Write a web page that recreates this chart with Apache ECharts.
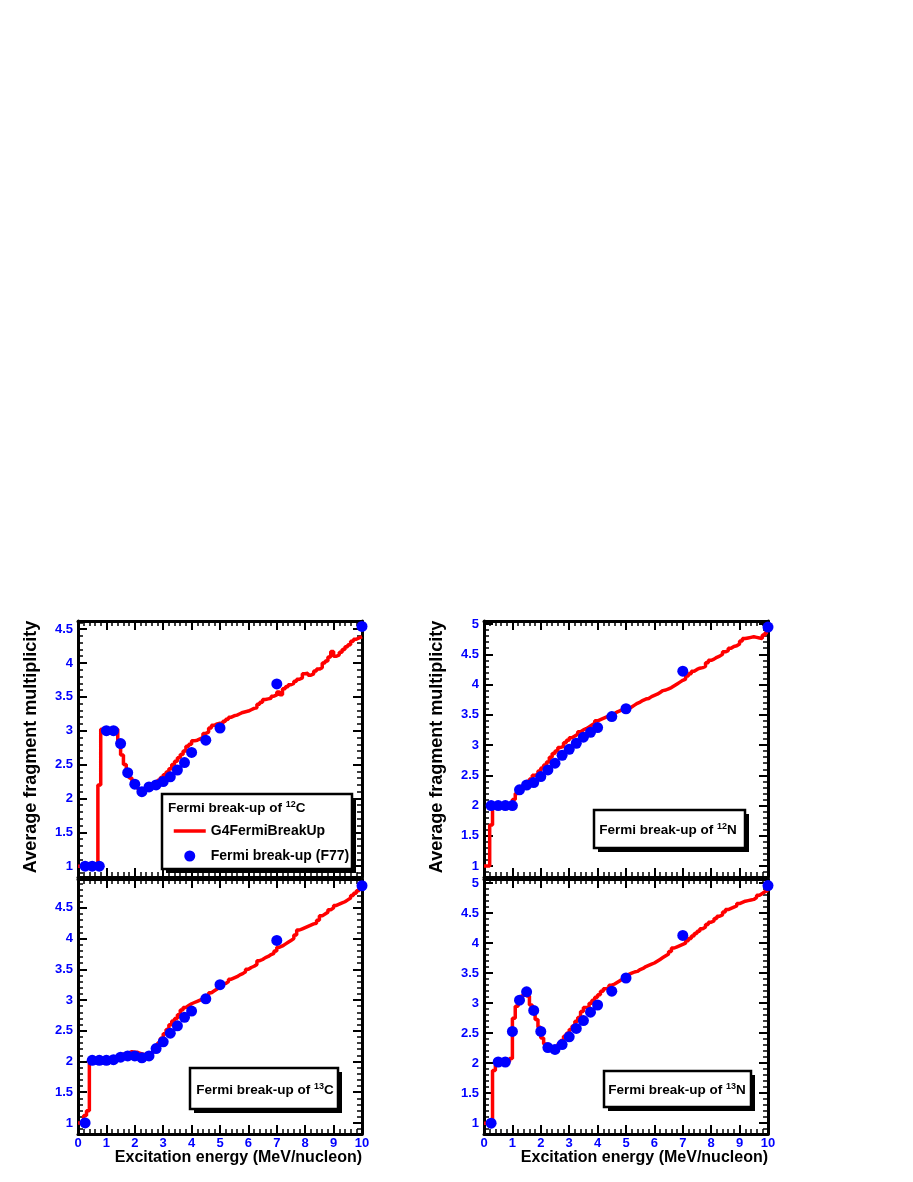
<!DOCTYPE html>
<html><head><meta charset="utf-8">
<script src="https://cdn.jsdelivr.net/npm/echarts@6/dist/echarts.min.js"></script>
<style>html,body{margin:0;padding:0;background:#fff}#c{width:913px;height:1182px}</style>
</head><body><div id="c"></div>
<script>
// ---------- DATA ----------
const HIST_X_MIN = 0, HIST_BIN_WIDTH = 0.1, X_MAX = 10;
const F77_E = [0.25,0.5,0.75,1.0,1.25,1.5,1.75,2.0,2.25,2.5,2.75,3.0,3.25,3.5,3.75,4.0,4.5,5.0,7.0,10.0];

const C12_HIST = [1.0,1.0,1.0,1.0,1.0,1.0,1.0,2.2,3.02,3.03,
  3.03,3.03,3.03,3.02,2.82,2.64,2.5,2.4,2.3,2.24,
  2.18,2.14,2.1,2.12,2.15,2.17,2.2,2.23,2.27,2.31,
  2.35,2.39,2.44,2.5,2.55,2.6,2.65,2.7,2.77,2.8,
  2.85,2.86,2.88,2.9,2.96,2.98,3.04,3.08,3.1,3.11,
  3.1,3.14,3.17,3.2,3.22,3.23,3.25,3.27,3.28,3.29,
  3.31,3.33,3.34,3.39,3.42,3.46,3.47,3.48,3.51,3.53,
  3.57,3.53,3.62,3.65,3.68,3.7,3.73,3.76,3.78,3.84,
  3.85,3.82,3.84,3.88,3.91,3.93,4.0,4.03,4.09,4.17,
  4.1,4.12,4.16,4.2,4.24,4.27,4.32,4.35,4.37,4.39];
const C12_F77 = [1.0,1.0,1.0,3.0,3.0,2.81,2.38,2.21,2.10,2.17,2.20,2.25,2.32,2.42,2.53,2.68,2.86,3.04,3.69,4.54];

const N12_HIST = [1.0,1.0,1.68,2.0,2.0,2.0,2.0,2.0,2.0,2.0,
  2.1,2.2,2.28,2.32,2.36,2.4,2.44,2.5,2.52,2.57,
  2.62,2.67,2.72,2.8,2.86,2.9,2.96,2.98,3.04,3.08,
  3.12,3.15,3.18,3.22,3.25,3.27,3.3,3.33,3.36,3.4,
  3.42,3.44,3.46,3.48,3.5,3.52,3.55,3.57,3.58,3.6,
  3.6,3.63,3.66,3.69,3.71,3.74,3.76,3.77,3.8,3.82,
  3.84,3.87,3.9,3.91,3.93,3.95,3.98,4.01,4.04,4.07,
  4.09,4.14,4.18,4.22,4.25,4.27,4.28,4.3,4.36,4.4,
  4.42,4.45,4.47,4.5,4.54,4.56,4.6,4.63,4.64,4.67,
  4.72,4.76,4.77,4.78,4.79,4.78,4.77,4.76,4.82,4.86];
const N12_F77 = [2.0,2.0,2.0,2.0,2.26,2.34,2.38,2.48,2.59,2.70,2.83,2.93,3.03,3.13,3.21,3.29,3.47,3.60,4.22,4.95];

const C13_HIST = [1.0,1.0,1.12,1.2,2.0,2.01,2.01,2.02,2.02,2.02,
  2.03,2.04,2.06,2.08,2.1,2.12,2.13,2.14,2.16,2.15,
  2.15,2.13,2.12,2.1,2.1,2.12,2.16,2.22,2.3,2.38,
  2.45,2.52,2.6,2.66,2.7,2.76,2.84,2.88,2.91,2.94,
  2.96,2.98,3.0,3.02,3.06,3.08,3.12,3.15,3.18,3.2,
  3.23,3.27,3.3,3.34,3.36,3.38,3.41,3.43,3.46,3.5,
  3.53,3.55,3.58,3.64,3.66,3.69,3.71,3.74,3.76,3.8,
  3.86,3.88,3.91,3.94,3.97,4.0,4.06,4.14,4.16,4.18,
  4.2,4.22,4.24,4.25,4.3,4.37,4.4,4.43,4.47,4.5,
  4.54,4.56,4.58,4.6,4.63,4.66,4.7,4.74,4.78,4.82];
const C13_F77 = [1.0,2.02,2.02,2.02,2.03,2.07,2.09,2.09,2.06,2.09,2.21,2.32,2.46,2.58,2.72,2.82,3.02,3.25,3.97,4.86];

const N13_HIST = [1.0,1.0,1.0,1.88,1.97,2.0,2.01,2.02,2.03,2.08,
  2.75,2.95,3.05,3.12,3.17,3.12,2.97,2.85,2.73,2.6,
  2.42,2.32,2.27,2.25,2.24,2.26,2.32,2.38,2.45,2.5,
  2.56,2.62,2.7,2.76,2.86,2.93,2.94,3.0,3.05,3.1,
  3.14,3.2,3.24,3.26,3.3,3.32,3.35,3.38,3.4,3.45,
  3.48,3.5,3.52,3.53,3.56,3.58,3.61,3.63,3.65,3.67,
  3.7,3.73,3.76,3.79,3.82,3.86,3.92,3.94,3.96,3.98,
  4.0,4.04,4.08,4.12,4.16,4.2,4.24,4.27,4.31,4.35,
  4.37,4.41,4.45,4.47,4.52,4.56,4.58,4.6,4.62,4.66,
  4.68,4.7,4.71,4.72,4.73,4.76,4.8,4.83,4.86,4.88];
const N13_F77 = [1.0,2.02,2.02,2.53,3.05,3.19,2.88,2.53,2.26,2.23,2.31,2.44,2.58,2.71,2.85,2.97,3.20,3.42,4.13,4.96];

const X_TICKS = [0,1,2,3,4,5,6,7,8,9,10];
const Y_TICKS_C12 = [1,1.5,2,2.5,3,3.5,4,4.5];
const Y_TICKS_N12 = [1,1.5,2,2.5,3,3.5,4,4.5,5];
const Y_TICKS_C13 = [1,1.5,2,2.5,3,3.5,4,4.5];
const Y_TICKS_N13 = [1,1.5,2,2.5,3,3.5,4,4.5,5];
const Y_RANGE_C12 = [0.84, 4.62];
const Y_RANGE_N12 = [0.82, 5.05];
const Y_RANGE_C13 = [0.82, 4.97];
const Y_RANGE_N13 = [0.82, 5.07];

const LINE_NAME = 'G4FermiBreakUp';
const PT_NAME = 'Fermi break-up (F77)';
const X_TITLE = 'Excitation energy (MeV/nucleon)';
const Y_TITLE = 'Average fragment multiplicity';

// ---------- LAYOUT ----------
const FONT = '"Liberation Sans", Arial, Helvetica, sans-serif';
const BLUE = '#0000ff', RED = '#ff0000';
const panels = [
  {hist:C12_HIST, f77:C12_F77, yt:Y_TICKS_C12, yr:Y_RANGE_C12, left:78, top:621, width:284, height:256, showX:false},
  {hist:N12_HIST, f77:N12_F77, yt:Y_TICKS_N12, yr:Y_RANGE_N12, left:484, top:621, width:284, height:256, showX:false},
  {hist:C13_HIST, f77:C13_F77, yt:Y_TICKS_C13, yr:Y_RANGE_C13, left:78, top:879, width:284, height:255, showX:true},
  {hist:N13_HIST, f77:N13_F77, yt:Y_TICKS_N13, yr:Y_RANGE_N13, left:484, top:879, width:284, height:255, showX:true}
];

const grids = [], xAxes = [], yAxes = [], series = [];
panels.forEach((p, g) => {
  grids.push({left:p.left, top:p.top, width:p.width, height:p.height, containLabel:false, outerBoundsMode:'none'});
  const xb = {gridIndex:g, type:'value', min:0, max:X_MAX, interval:1, splitLine:{show:false},
    axisLine:{show:true, onZero:false, lineStyle:{color:'#000', width:3}},
    axisTick:{show:true, inside:true, length:9, lineStyle:{color:'#000', width:2}},
    minorTick:{show:true, splitNumber:5, length:5, lineStyle:{color:'#000', width:1.5}}};
  xAxes.push(Object.assign({}, xb, {position:'bottom',
    axisLabel:{show:p.showX, customValues:X_TICKS, color:BLUE, fontWeight:'bold', fontSize:13, fontFamily:FONT, margin:3}}));
  xAxes.push(Object.assign({}, xb, {position:'top', axisLabel:{show:false}}));

  const minors = [];
  for (let k = Math.ceil(p.yr[0]*10); k <= Math.floor(p.yr[1]*10); k++) { if (k % 5 !== 0) minors.push(k/10); }
  const yb = {gridIndex:g, type:'value', min:p.yr[0], max:p.yr[1], splitLine:{show:false}};
  ['left','right'].forEach(pos => {
    yAxes.push(Object.assign({}, yb, {position:pos,
      axisLine:{show:true, onZero:false, lineStyle:{color:'#000', width:3}},
      axisTick:{show:true, inside:true, length:9, customValues:p.yt, lineStyle:{color:'#000', width:2}},
      axisLabel:{show:pos==='left', customValues:p.yt, formatter:v=>String(v), color:BLUE, fontWeight:'bold', fontSize:13, fontFamily:FONT, margin:5}}));
    yAxes.push(Object.assign({}, yb, {position:pos,
      axisLine:{show:false, onZero:false},
      axisTick:{show:true, inside:true, length:5, customValues:minors, lineStyle:{color:'#000', width:1.5}},
      axisLabel:{show:false, customValues:minors}}));
  });

  const lineData = p.hist.map((v, i) => [HIST_X_MIN + i*HIST_BIN_WIDTH, v]);
  lineData.push([X_MAX, p.hist[p.hist.length-1]]);
  series.push({type:'line', name:LINE_NAME, xAxisIndex:g*2, yAxisIndex:g*4, data:lineData, step:'end',
    symbol:'none', showSymbol:false, lineStyle:{color:RED, width:3.5}, itemStyle:{color:RED}, z:3, animation:false});
  series.push({type:'scatter', name:PT_NAME, xAxisIndex:g*2, yAxisIndex:g*4,
    data:F77_E.map((e, i) => [e, p.f77[i]]), symbol:'circle', symbolSize:11, itemStyle:{color:BLUE, opacity:1},
    clip:false, z:4, animation:false});
});

function box(x, y, w, h) {
  return [
    {type:'rect', shape:{x:x+4, y:y+4, width:w, height:h}, style:{fill:'#000'}, z:10},
    {type:'rect', shape:{x:x, y:y, width:w, height:h}, style:{fill:'#fff', stroke:'#000', lineWidth:2.5}, z:11}
  ];
}
const rich = {a:{fontFamily:FONT, fontWeight:'bold', fontSize:13.5, lineHeight:15, fill:'#000'},
              s:{fontFamily:FONT, fontWeight:'bold', fontSize:9, lineHeight:10, fill:'#000', verticalAlign:'top'}};
function label(x, y, iso, el, align) {
  return {type:'text', x:x, y:y, z:12, style:{text:'{a|Fermi break-up of }{s|' + iso + '}{a|' + el + '}',
    rich:rich, align:align, verticalAlign:'middle'}};
}
const graphics = [].concat(
  box(162, 794, 190, 75), [label(168, 808, '12', 'C', 'left')],
  box(190, 1068, 148, 41), [label(265, 1090, '13', 'C', 'center')],
  box(594, 810, 151, 38), [label(668, 830, '12', 'N', 'center')],
  box(604, 1071, 147, 36), [label(677, 1090, '13', 'N', 'center')],
  [
    {type:'text', x:362, y:1158, z:12, style:{text:X_TITLE, font:'bold 16px ' + FONT, fill:'#000', align:'right', verticalAlign:'middle'}},
    {type:'text', x:768, y:1158, z:12, style:{text:X_TITLE, font:'bold 16px ' + FONT, fill:'#000', align:'right', verticalAlign:'middle'}},
    {type:'text', x:31, y:747, rotation:Math.PI/2, z:12, style:{text:Y_TITLE, font:'bold 18px ' + FONT, fill:'#000', align:'center', verticalAlign:'middle'}},
    {type:'text', x:437, y:747, rotation:Math.PI/2, z:12, style:{text:Y_TITLE, font:'bold 18px ' + FONT, fill:'#000', align:'center', verticalAlign:'middle'}}
  ]
);

const chart = echarts.init(document.getElementById('c'), null, {renderer:'canvas'});
chart.setOption({
  backgroundColor:'#fff',
  animation:false,
  grid:grids, xAxis:xAxes, yAxis:yAxes, series:series,
  legend:{show:true, orient:'vertical', left:172, top:824, padding:0, itemWidth:32, itemHeight:11, itemGap:11,
    selectedMode:false, z:20,
    textStyle:{fontFamily:FONT, fontWeight:'bold', fontSize:14, color:'#000'},
    data:[{name:LINE_NAME, itemStyle:{color:'rgba(0,0,0,0)', borderWidth:0}, lineStyle:{color:RED, width:3.5}},
          {name:PT_NAME, icon:'circle', itemStyle:{color:BLUE, opacity:1}}]},
  graphic:{elements:graphics}
});
</script></body></html>
